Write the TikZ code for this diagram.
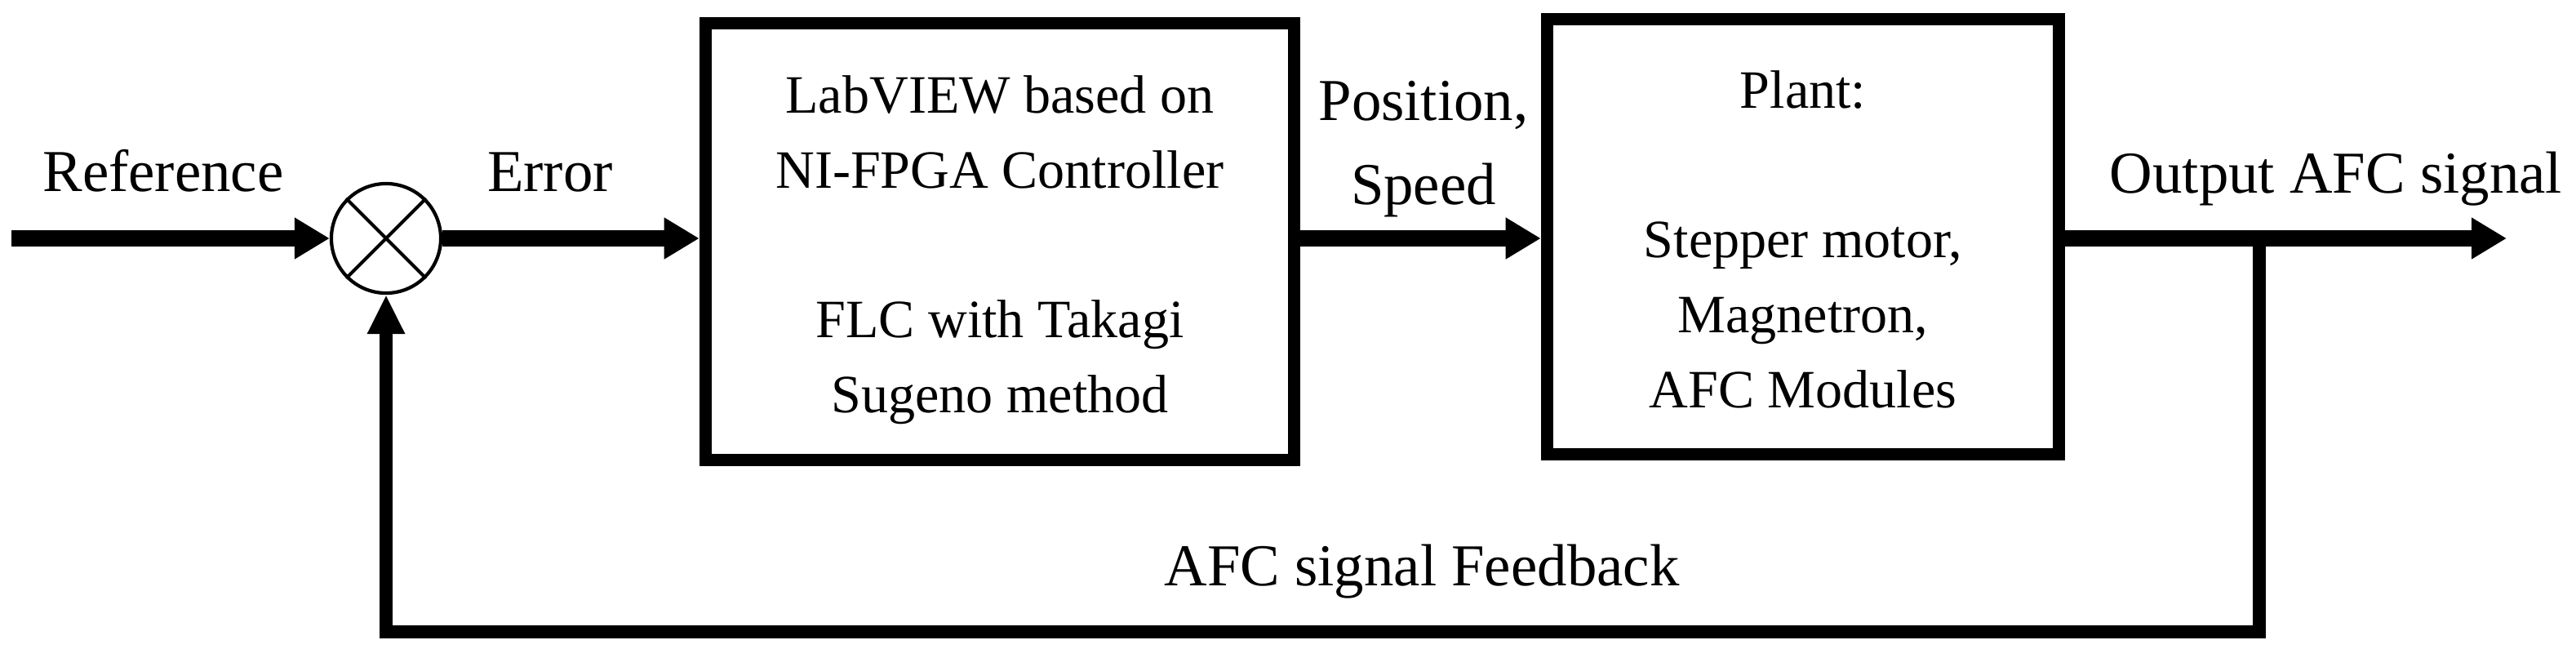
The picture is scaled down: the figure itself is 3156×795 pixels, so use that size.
\documentclass[tikz,border=0pt]{standalone}
\usepackage{fontspec}
\setmainfont{Liberation Serif}
\usetikzlibrary{positioning,arrows.meta,calc}

\tikzset{
  block/.style={draw, rectangle, line width=4.3pt, inner sep=0pt},
  boxtext/.style={align=center, inner sep=0pt, font=\fontsize{18.8}{26.1}\selectfont},
  lbl/.style={inner sep=0pt, anchor=base, font=\fontsize{20.7}{29.3}\selectfont},
  sig/.style={line width=5.5pt, -{Triangle[length=0.43cm,width=0.48cm]}},
  fb/.style={line width=4.6pt},
}

\begin{document}
\begin{tikzpicture}[x=0.01cm,y=-0.01cm]
  \useasboundingbox (0,0) rectangle (3156,795);

  \node[circle, draw, line width=1.2pt, minimum size=1.34cm, inner sep=0pt] (sum) at (473,292) {};
  \draw[line width=1.2pt] (sum.north west) -- (sum.south east);
  \draw[line width=1.2pt] (sum.south west) -- (sum.north east);

  \node[block, minimum width=7.21cm, minimum height=5.34cm] (ctrl) at (1225,296) {};
  \node[boxtext] (ctrltext) at (1225,306) {LabVIEW based on\\NI-FPGA Controller\\[26.1pt]FLC with Takagi\\Sugeno method};

  \node[block, minimum width=6.27cm, minimum height=5.33cm] (plant) at (2209,290) {};
  \node[boxtext] (planttext) at (2209,293) {Plant:\\[26.1pt]Stepper motor,\\Magnetron,\\AFC Modules};

  \coordinate (in) at (14,292);
  \coordinate (out) at (3071,292);
  \coordinate (tap) at (2674,294);
  \coordinate (branch) at (2768,294);
  \coordinate (fbl) at (473,774);

  \node[lbl] (reflbl) at (200,235) {Reference};
  \node[lbl] (errlbl) at (674,235) {Error};
  \node[lbl, align=center, anchor=north] (poslbl) at (1744,99) {Position,\\Speed};
  \node[lbl] (outlbl) at (2862,237) {Output AFC signal};
  \node[lbl] (fblbl) at (1742,718) {AFC signal Feedback};

  \draw[sig] (in) -- (sum);
  \draw[sig] (sum) -- (sum -| ctrl.west);
  \draw[sig] (sum -| ctrl.east) -- (sum -| plant.west);
  \draw[sig] (sum -| plant.east) -- (out);
  \draw[fb, -{Triangle[length=0.48cm,width=0.43cm]}] (tap) -- (branch) |- (fbl) -- (sum);

\end{tikzpicture}
\end{document}
